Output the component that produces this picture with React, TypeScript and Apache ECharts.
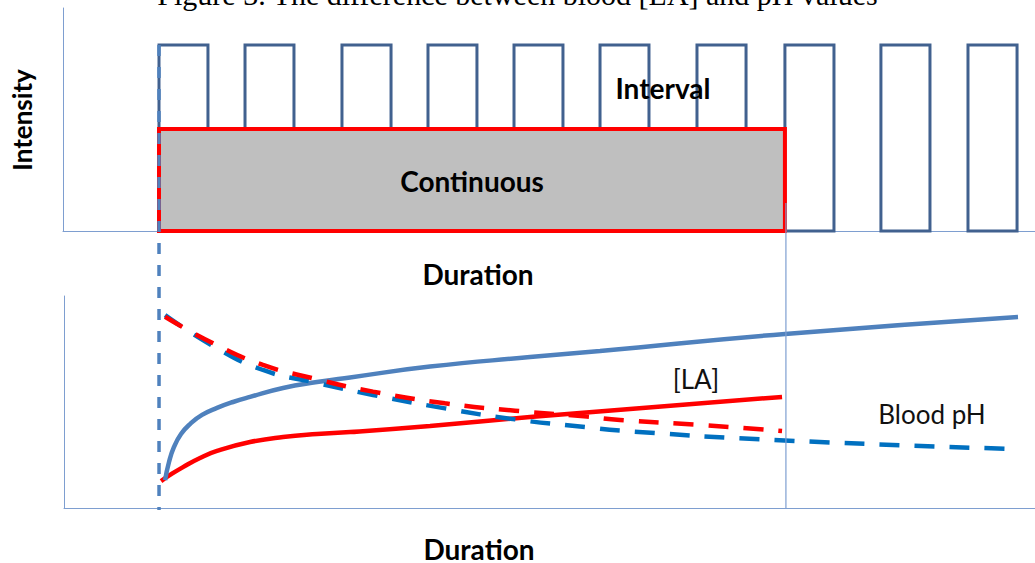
import React, { useEffect, useRef } from "react";
import * as echarts from "echarts";

// ---- data (x: duration units, y: relative units) ----
const titleText = "Figure 3. The difference between blood [LA] and pH values";

const intervalStarts = [0, 8.96, 19.06, 28.02, 36.98, 45.94, 56.04, 65.2, 75.2, 84.27];
const intervalEnds = [5.1, 14.06, 24.17, 33.12, 42.08, 51.04, 61.15, 70.31, 80.31, 89.38];
const intervalIntensity = 83.4;

const continuousStart = 0;
const continuousEnd = 65.2;
const continuousIntensity = 45.7;
const continuousMarkerTop = 12.6;

const laInterval: [number, number][] = [
  [0.63, 13.2], [1.04, 21.7], [1.56, 28.8], [2.29, 34.9], [3.23, 39.6], [4.48, 43.9],
  [6.04, 47.2], [7.71, 50.0], [9.48, 52.4], [12.92, 56.6], [16.46, 59.4], [19.9, 61.6],
  [28.23, 66.7], [38.65, 71.2], [45.94, 74.1], [65.21, 82.1], [89.48, 90.1],
];
const laContinuous: [number, number][] = [
  [0.21, 12.7], [1.15, 15.6], [2.5, 19.3], [4.27, 23.6], [6.04, 26.9], [9.48, 31.1],
  [12.92, 33.5], [16.46, 34.9], [19.9, 35.8], [28.23, 38.7], [38.65, 42.9], [49.06, 46.7], [64.9, 52.4],
];
const phContinuous: [number, number][] = [
  [0.63, 90.2], [5.63, 77.7], [10.83, 67.5], [16.04, 61.2], [22.29, 54.9], [29.79, 49.4],
  [37.08, 45.9], [44.58, 43.1], [48.02, 41.5], [56.35, 39.2], [64.9, 36.3],
];
const phInterval: [number, number][] = [
  [0.63, 91.0], [5.63, 76.4], [10.83, 65.1], [16.04, 59.4], [22.29, 53.3], [29.79, 47.0],
  [37.08, 41.8], [44.58, 38.1], [48.02, 36.5], [63.96, 32.1], [89.17, 27.8],
];

const labelFont = "Lato, 'Open Sans', sans-serif";

export default function App() {
  const ref = useRef<HTMLDivElement>(null);
  useEffect(() => {
    if (!ref.current) return;
    const chart = echarts.init(ref.current, null, { renderer: "svg" });
    const axisColor = "#7E9ED0";
    const boxData = intervalStarts.map((s, i) => [s, intervalEnds[i], intervalIntensity]);
    const rectItem = (stroke: string, fill: string, lw: number) => (params: any, api: any) => {
      const p0 = api.coord([api.value(0), api.value(2)]);
      const p1 = api.coord([api.value(1), 0]);
      return {
        type: "rect",
        shape: { x: p0[0], y: p0[1], width: p1[0] - p0[0], height: p1[1] - p0[1] },
        style: { fill, stroke, lineWidth: lw },
      };
    };
    const hiddenAxis = {
      axisTick: { show: false },
      axisLabel: { show: false },
      splitLine: { show: false },
      axisLine: { show: true, onZero: false, lineStyle: { color: axisColor, width: 1 } },
    };
    const lineSeries = (data: [number, number][], color: string, dashed: boolean, z: number) => ({
      type: "line",
      xAxisIndex: 1,
      yAxisIndex: 1,
      data,
      smooth: 0.5,
      showSymbol: false,
      symbol: "none",
      z,
      lineStyle: { color, width: 4.5, type: dashed ? [20, 15] : "solid", cap: "butt" },
    });
    chart.setOption({
      animation: false,
      grid: [
        { left: 63, right: 0, top: 8, height: 223 },
        { left: 64, right: 0, top: 296, height: 212 },
      ],
      xAxis: [
        { type: "value", gridIndex: 0, min: -10, max: 91.25, ...hiddenAxis },
        { type: "value", gridIndex: 1, min: -9.9, max: 91.25, ...hiddenAxis },
      ],
      yAxis: [
        { type: "value", gridIndex: 0, min: 0, max: 100, ...hiddenAxis },
        { type: "value", gridIndex: 1, min: 0, max: 100, ...hiddenAxis },
      ],
      series: [
        {
          type: "custom",
          xAxisIndex: 0,
          yAxisIndex: 0,
          data: boxData,
          renderItem: rectItem("#41618F", "none", 3),
          z: 2,
        },
        {
          type: "custom",
          xAxisIndex: 0,
          yAxisIndex: 0,
          data: [[continuousStart, continuousEnd, continuousIntensity]],
          renderItem: rectItem("#FF0000", "#BFBFBF", 4),
          z: 3,
        },
        lineSeries(laContinuous, "#FF0000", false, 4),
        lineSeries(laInterval, "#4F81BD", false, 5),
        lineSeries(phInterval, "#0070C0", true, 6),
        lineSeries(phContinuous, "#FF0000", true, 7),
      ],
    });

    const top0 = chart.convertToPixel({ xAxisIndex: 0, yAxisIndex: 0 }, [0, intervalIntensity]) as number[];
    const bot0 = chart.convertToPixel({ xAxisIndex: 1, yAxisIndex: 1 }, [0, 0]) as number[];
    const top1 = chart.convertToPixel({ xAxisIndex: 0, yAxisIndex: 0 }, [continuousEnd, continuousMarkerTop]) as number[];
    const bot1 = chart.convertToPixel({ xAxisIndex: 1, yAxisIndex: 1 }, [continuousEnd, 0]) as number[];

    const bold = (text: string, x: number, y: number, size: number, rotation = 0) => ({
      type: "text",
      x,
      y,
      rotation,
      z: 20,
      style: {
        text,
        fill: "#000",
        font: `bold ${size}px ${labelFont}`,
        align: "center",
        verticalAlign: "middle",
        lineHeight: 22,
      },
    });
    const regular = (text: string, x: number, y: number, size: number) => ({
      type: "text",
      x,
      y,
      z: 20,
      style: {
        text,
        fill: "#111",
        font: `${size}px ${labelFont}`,
        align: "center",
        verticalAlign: "middle",
      },
    });

    chart.setOption({
      graphic: [
        {
          type: "line",
          z: 10,
          shape: { x1: top0[0], y1: top0[1], x2: bot0[0], y2: bot0[1] + 2 },
          style: { stroke: "#4F81BD", lineWidth: 3.5, lineDash: [11, 11] },
        },
        {
          type: "line",
          z: 10,
          shape: { x1: top1[0] + 1, y1: top1[1], x2: bot1[0] + 1, y2: bot1[1] },
          style: { stroke: axisColor, lineWidth: 1.2 },
        },
        {
          type: "text",
          x: 517.5,
          y: -6,
          z: 20,
          style: {
            text: titleText,
            fill: "#000",
            font: "30px 'Liberation Serif', serif",
            align: "center",
            verticalAlign: "middle",
          },
        },
        bold("Intensity", 22, 120, 26, Math.PI / 2),
        bold("Interval", 663, 88, 28),
        bold("Continuous", 472, 181, 28),
        bold("Duration", 478, 274, 28),
        bold("Duration", 479, 549, 28),
        regular("[LA]", 696, 379, 26),
        regular("Blood pH", 932, 414, 26),
      ],
    });
    return () => chart.dispose();
  }, []);
  return (
    <div
      ref={ref}
      style={{ position: "absolute", left: 0, top: 0, width: 1035, height: 563, background: "#fff" }}
    />
  );
}
